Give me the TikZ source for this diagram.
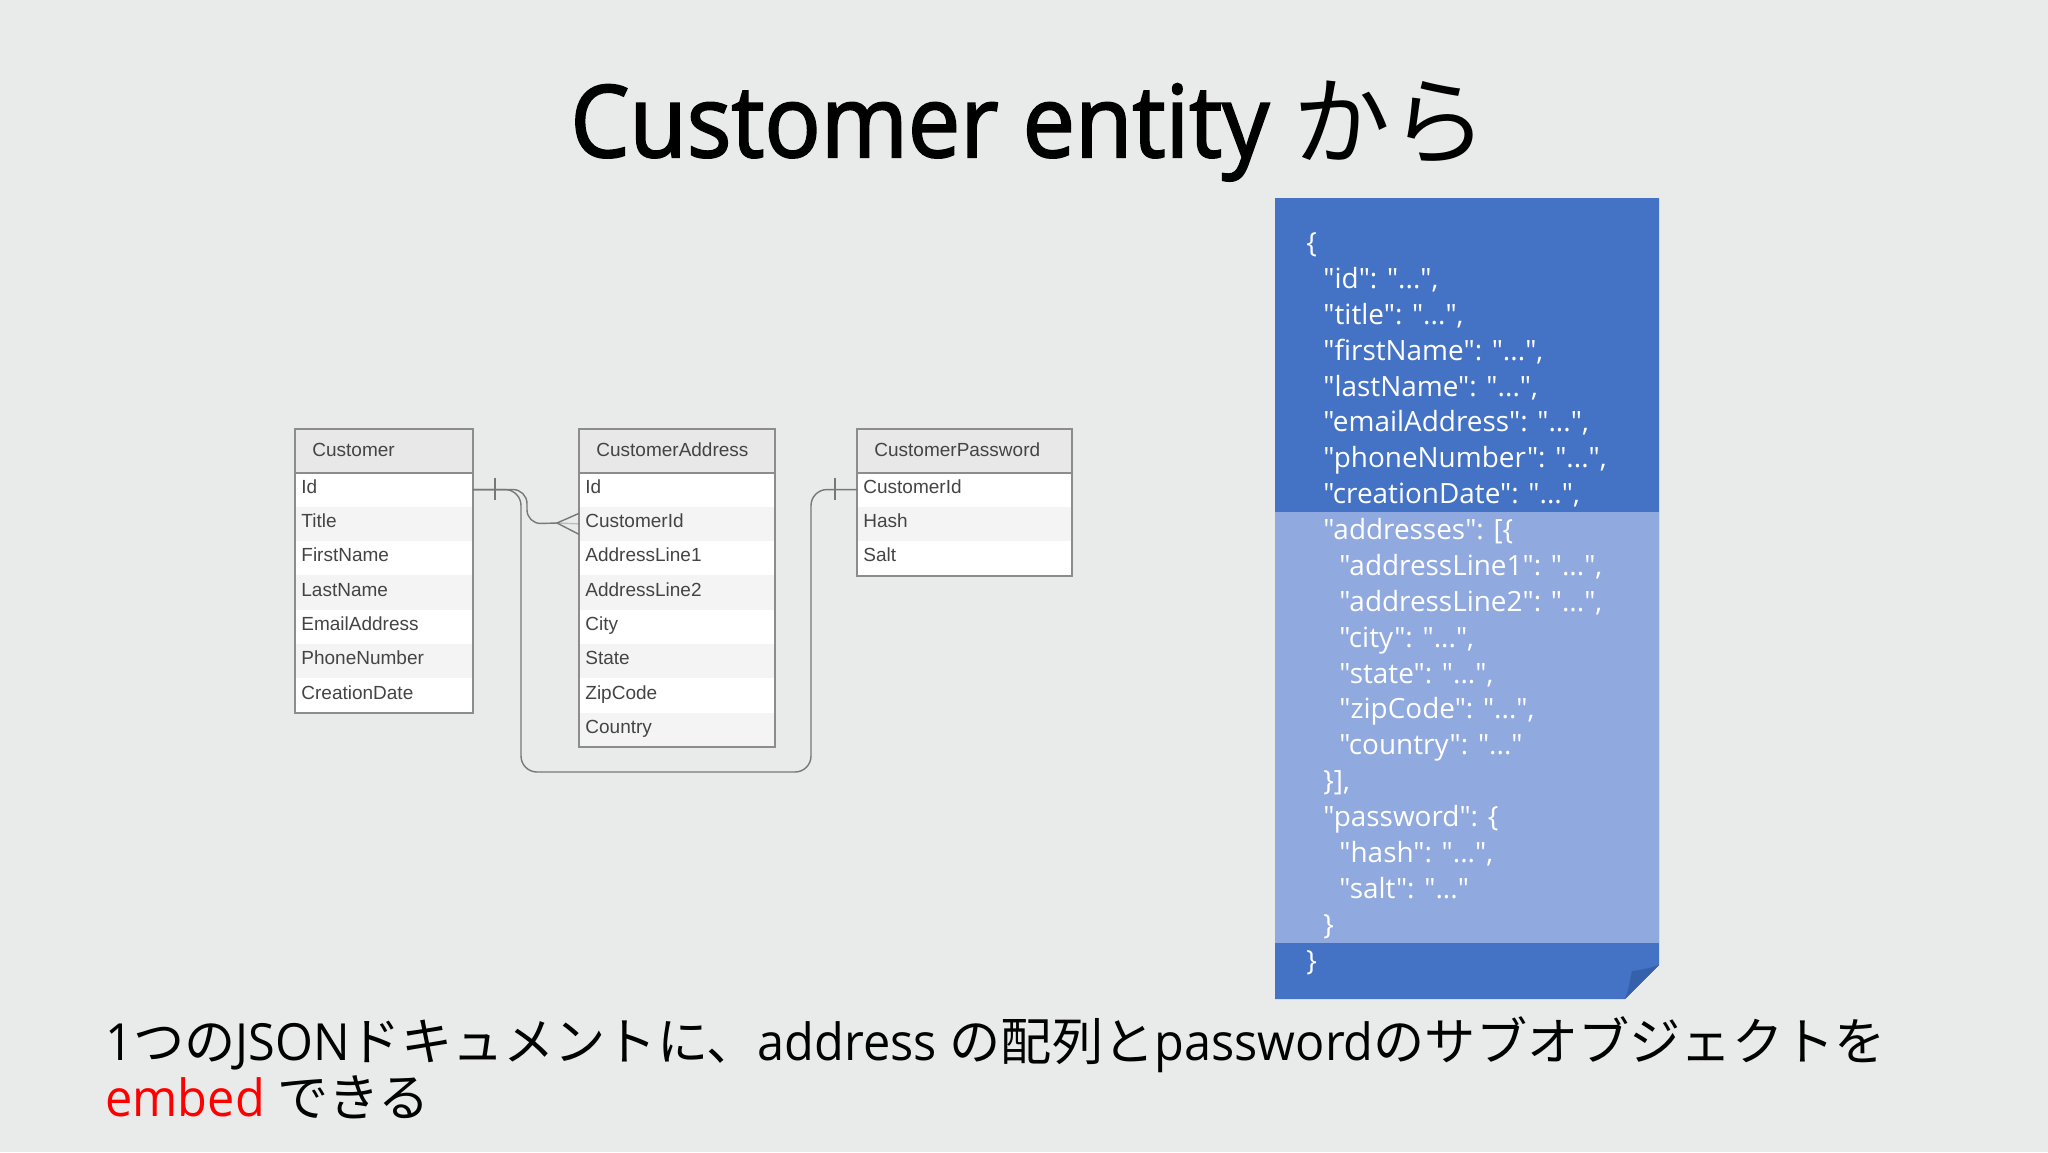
\documentclass[tikz,border=0pt]{standalone}
\usepackage{fontspec}
\setmainfont{Open Sans}
\newfontfamily\titlefont{Open Sans}[FakeStretch=0.935,FakeBold=2]
\newfontfamily\capfont{Open Sans}[FakeStretch=0.95]
\newfontfamily\jsonfont{Open Sans}
\newfontfamily\cjk{Noto Sans CJK JP}
\newfontfamily\erfont{Liberation Sans}
\usetikzlibrary{calc}
\definecolor{slidebg}{HTML}{E9EBEB}
\definecolor{docblue}{HTML}{4472C4}
\definecolor{doclight}{HTML}{90A9DF}
\definecolor{docfold}{HTML}{3460AC}
\definecolor{rowgray}{HTML}{F4F4F4}
\definecolor{headgray}{HTML}{E8E8E8}
\definecolor{ertext}{HTML}{444444}
\definecolor{erline}{HTML}{8C8C8C}
\tikzset{
	headcell/.style={anchor=north west, fill=headgray, inner ysep=0pt, inner xsep=8.5pt, text width=#1, minimum height=21.5pt, text height=7.4pt, text depth=2pt, text=ertext, font=\erfont\fontsize{9.5}{12}\selectfont},
	rowcell/.style={anchor=north west, inner ysep=0pt, inner xsep=3pt, text width=#1, minimum height=17.15pt, text height=7.2pt, text depth=3.5pt, text=ertext, font=\erfont\fontsize{9.5}{12}\selectfont},
	whiterow/.style={rowcell=#1, fill=white},
	grayrow/.style={rowcell=#1, fill=rowgray},
	erframe/.style={draw=erline, line width=0.8pt},
	erlink/.style={draw=erline!85!black, line width=0.7pt},
	jsonline/.style={anchor=base west, inner sep=0pt, text=white, font=\jsonfont\fontsize{13.95}{18}\selectfont},
	captionline/.style={anchor=base west, inner sep=0pt, font=\capfont\fontsize{25.6}{30}\selectfont}
}
\def\jp#1{{\cjk #1}}
\begin{document}
\begin{tikzpicture}[x=0.5pt, y=-0.5pt]
			%%%%% background %%%%%
			\fill[slidebg] (0, 0) rectangle (2048, 1152);
			\node[anchor=base west, inner sep=0pt, font=\titlefont\fontsize{50}{60}\selectfont] (title) at (570, 157) {Customer entity {\fontsize{48.5}{60}\selectfont\jp{から}}};
			
			%%%%% Customer %%%%%
			\node[headcell=71.5pt] (custHead) at (295, 429) {Customer};
			\node[whiterow=82.5pt] (custId) at (295, 472) {Id};
			\node[grayrow=82.5pt] (custTitle) at (295, 506.3) {Title};
			\node[whiterow=82.5pt] (custFirst) at (295, 540.6) {FirstName};
			\node[grayrow=82.5pt] (custLast) at (295, 574.9) {LastName};
			\node[whiterow=82.5pt] (custMail) at (295, 609.2) {EmailAddress};
			\node[grayrow=82.5pt] (custPhone) at (295, 643.5) {PhoneNumber};
			\node[whiterow=82.5pt] (custDate) at (295, 677.8) {CreationDate};
			\draw[erframe] (custHead.north west) rectangle (custDate.south east);
			\draw[erframe] (custHead.south west) -- (custHead.south east);
			
			%%%%% CustomerAddress %%%%%
			\node[headcell=80.5pt] (addrHead) at (579, 429) {CustomerAddress};
			\node[whiterow=91.5pt] (addrId) at (579, 472) {Id};
			\node[grayrow=91.5pt] (addrCust) at (579, 506.3) {CustomerId};
			\node[whiterow=91.5pt] (addrLineA) at (579, 540.6) {AddressLine1};
			\node[grayrow=91.5pt] (addrLineB) at (579, 574.9) {AddressLine2};
			\node[whiterow=91.5pt] (addrCity) at (579, 609.2) {City};
			\node[grayrow=91.5pt] (addrState) at (579, 643.5) {State};
			\node[whiterow=91.5pt] (addrZip) at (579, 677.8) {ZipCode};
			\node[grayrow=91.5pt] (addrCountry) at (579, 712.1) {Country};
			\draw[erframe] (addrHead.north west) rectangle (addrCountry.south east);
			\draw[erframe] (addrHead.south west) -- (addrHead.south east);
			
			%%%%% CustomerPassword %%%%%
			\node[headcell=90pt] (passHead) at (857, 429) {CustomerPassword};
			\node[whiterow=101pt] (passId) at (857, 472) {CustomerId};
			\node[grayrow=101pt] (passHash) at (857, 506.3) {Hash};
			\node[whiterow=101pt] (passSalt) at (857, 540.6) {Salt};
			\draw[erframe] (passHead.north west) rectangle (passSalt.south east);
			\draw[erframe] (passHead.south west) -- (passHead.south east);
			
			%%%%% relations %%%%%
			\coordinate (bendA) at (527, 505);
			\coordinate (crowTip) at (557, 523);
			\coordinate (bendB) at (521, 772);
			\coordinate (bendC) at (811, 772);
			\coordinate (tickA) at (495, 489);
			\coordinate (tickB) at (835, 489);
			
			\draw[erlink, rounded corners=7pt] (custId.east) -- (bendA |- custId.east) -- (bendA |- addrCust.west) -- (crowTip);
			\draw[erlink, rounded corners=8pt] (custId.east) -- (bendB |- custId.east) -- (bendB) -- (bendC) -- (bendC |- passId.west) -- (passId.west);
			\draw[erlink] (tickA) ++(0, -11) -- ++(0, 22);
			\draw[erlink] (tickB) ++(0, -11) -- ++(0, 22);
			\draw[erlink] ($(addrCust.west)+(0, -10.5)$) -- (crowTip) -- ($(addrCust.west)+(0, 10.5)$);
			\draw[erlink, draw opacity=0.4] (crowTip) -- (addrCust.west);
			
			%%%%% document %%%%%
			\fill[docblue] (1275, 198) -- (1659, 198) -- (1659, 965) -- (1625, 999) -- (1275, 999) -- cycle;
			\fill[doclight] (1275, 512) rectangle (1659, 943);
			\fill[docfold] (1625, 999) .. controls (1629, 988) and (1630, 980) .. (1632, 971) .. controls (1642, 970) and (1650, 968) .. (1659, 965) -- cycle;
			
			\node[jsonline] (jsonOpen) at (1306, 252) {\{};
			\node[jsonline] (jsonId) at (1323, 288) {"id": "...",};
			\node[jsonline] (jsonTitle) at (1323, 324) {"title": "...",};
			\node[jsonline] (jsonFirst) at (1323, 360) {"firstName": "...",};
			\node[jsonline] (jsonLast) at (1323, 396) {"lastName": "...",};
			\node[jsonline] (jsonMail) at (1323, 431.5) {"emailAddress": "...",};
			\node[jsonline] (jsonPhone) at (1323, 467.5) {"phoneNumber": "...",};
			\node[jsonline] (jsonDate) at (1323, 503.5) {"creationDate": "...",};
			\node[jsonline] (jsonAddr) at (1323, 539.5) {"addresses": [\{};
			\node[jsonline] (jsonLineA) at (1339, 575) {"addressLine1": "...",};
			\node[jsonline] (jsonLineB) at (1339, 611) {"addressLine2": "...",};
			\node[jsonline] (jsonCity) at (1339, 647) {"city": "...",};
			\node[jsonline] (jsonState) at (1339, 683) {"state": "...",};
			\node[jsonline] (jsonZip) at (1339, 718.5) {"zipCode": "...",};
			\node[jsonline] (jsonCountry) at (1339, 754.5) {"country": "..."};
			\node[jsonline] (jsonAddrEnd) at (1323, 790.5) {\}],};
			\node[jsonline] (jsonPass) at (1323, 826.5) {"password": \{};
			\node[jsonline] (jsonHash) at (1339, 862) {"hash": "...",};
			\node[jsonline] (jsonSalt) at (1339, 898) {"salt": "..."};
			\node[jsonline] (jsonPassEnd) at (1323, 934) {\}};
			\node[jsonline] (jsonClose) at (1306, 970) {\}};
			
			%%%%% caption %%%%%
			\node[captionline] (capA) at (105, 1060) {1\jp{つの}JSON\jp{ドキュメントに、}address \jp{の配列と}password\jp{のサブオブジェクトを}};
			\node[captionline] (capB) at (105, 1116) {\textcolor{red}{embed} \jp{できる}};
\end{tikzpicture}
\end{document}
